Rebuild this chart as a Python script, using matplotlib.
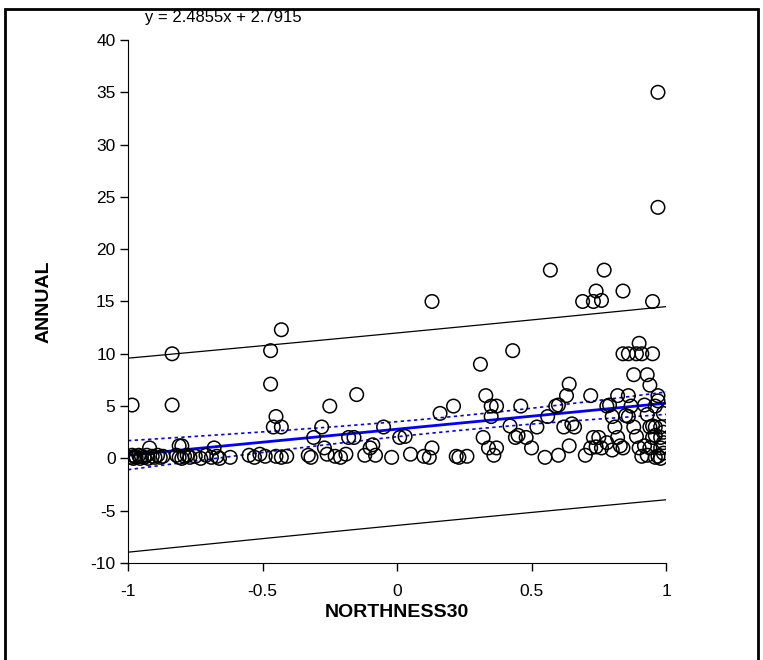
import numpy as np
import matplotlib.pyplot as plt
from matplotlib.patches import Rectangle

plt.rcParams['font.family'] = ['Liberation Sans', 'DejaVu Sans']
plt.rcParams['axes.unicode_minus'] = False

# fitted line as printed on the chart
slope = 2.4855
intercept = 2.7915

# NORTHNESS30 / ANNUAL
northness = [
    -0.985, -0.836, -0.836, -0.81, -0.80, -0.92,
    -0.99, -0.985, -0.98, -0.975, -0.97, -0.96, -0.955, -0.95, -0.94, -0.93,
    -0.925, -0.91, -0.90, -0.89, -0.88, -0.87,
    -0.82, -0.81, -0.80, -0.79, -0.78, -0.77, -0.75, -0.73, -0.71, -0.69,
    -0.68, -0.67, -0.66, -0.62, -0.55, -0.53, -0.51, -0.49,
    -0.47, -0.47, -0.45, -0.46, -0.43, -0.43, -0.45, -0.43, -0.41, -0.33,
    -0.32, -0.31, -0.28, -0.25, -0.27, -0.26, -0.23, -0.21, -0.19, -0.18,
    -0.16, -0.15, -0.12, -0.10, -0.09, -0.08, -0.05, -0.02, 0.01, 0.03, 0.05,
    0.10, 0.12, 0.13, 0.13, 0.16, 0.21, 0.22, 0.23, 0.26, 0.31, 0.33, 0.32,
    0.35, 0.37, 0.35, 0.34, 0.36, 0.37, 0.42, 0.43, 0.44, 0.45, 0.46, 0.48, 0.50,
    0.52, 0.55, 0.56, 0.57, 0.59, 0.60, 0.60, 0.62, 0.63, 0.64, 0.64, 0.65,
    0.66, 0.69, 0.73, 0.74, 0.76, 0.77, 0.84, 0.95, 0.97, 0.97, 0.70, 0.72,
    0.73, 0.74, 0.75, 0.76, 0.72, 0.78, 0.79, 0.80, 0.81, 0.82, 0.83, 0.82,
    0.84, 0.86, 0.88, 0.89, 0.90, 0.91, 0.93, 0.94, 0.95, 0.86, 0.87, 0.88,
    0.90, 0.91, 0.85, 0.86, 0.78, 0.80, 0.84, 0.89,
    0.93, 0.94, 0.95, 0.96, 0.96, 0.97, 0.97, 0.98, 0.98, 0.98, 0.99, 0.99,
    0.99, 0.96, 0.95, 0.93, 0.92, 0.97, 0.98, 0.99, 0.96, 0.94, 0.92,
]
annual = [
    5.1, 10.0, 5.1, 1.2, 1.2, 1.0,
    0.1, 0.3, 0.0, 0.2, 0.1, 0.3, 0.0, 0.2, 0.1, 0.3,
    0.0, 0.2, 0.1, 0.3, 0.1, 0.2,
    0.3, 0.1, 0.0, 0.2, 0.3, 0.1, 0.2, 0.0, 0.3, 0.1,
    1.0, 0.2, 0.0, 0.1, 0.3, 0.1, 0.4, 0.2,
    10.3, 7.1, 4.0, 3.0, 3.0, 12.3, 0.2, 0.1, 0.2, 0.3,
    0.1, 2.0, 3.0, 5.0, 1.0, 0.4, 0.2, 0.1, 0.4, 2.0,
    2.0, 6.1, 0.3, 1.0, 1.3, 0.3, 3.0, 0.1, 2.0, 2.1, 0.4,
    0.2, 0.1, 1.0, 15.0, 4.3, 5.0, 0.2, 0.1, 0.2, 9.0, 6.0, 2.0,
    5.0, 5.0, 4.0, 1.0, 0.3, 1.0, 3.1, 10.3, 2.0, 2.2, 5.0, 2.0, 1.0,
    3.0, 0.1, 4.0, 18.0, 5.0, 5.1, 0.3, 3.0, 6.0, 7.1, 1.2, 3.3,
    3.0, 15.0, 15.0, 16.0, 15.1, 18.0, 16.0, 15.0, 35.0, 24.0, 0.3, 1.0,
    2.0, 1.1, 2.0, 1.0, 6.0, 5.0, 5.1, 4.0, 3.0, 2.0, 1.2, 6.0,
    10.0, 10.0, 8.0, 10.0, 11.0, 10.0, 8.0, 7.0, 10.0, 6.0, 5.0, 3.0,
    1.0, 0.2, 4.1, 4.0, 1.5, 0.8, 1.0, 2.1,
    0.3, 1.0, 2.0, 3.0, 5.0, 6.0, 0.2, 1.0, 2.0, 3.0, 4.3, 0.5,
    1.5, 0.1, 3.1, 4.2, 5.1, 5.5, 0.0, 2.5, 2.2, 3.0, 1.2,
]

x = np.array(northness)
y = np.array(annual)

# 95% confidence and prediction bands around the printed line
n = len(x)
xm = x.mean()
sxx = ((x - xm) ** 2).sum()
s = np.sqrt(((y - (slope * x + intercept)) ** 2).sum() / (n - 2))
t = 1.97
xg = np.linspace(-1, 1, 101)
fit = slope * xg + intercept
ci = t * s * np.sqrt(1 / n + (xg - xm) ** 2 / sxx)
pi = t * s * np.sqrt(1 + 1 / n + (xg - xm) ** 2 / sxx)

fig = plt.figure(figsize=(7.63, 6.60), dpi=100)
ax = fig.add_axes([0.1678, 0.147, 0.7051, 0.7924])

ax.scatter(x, y, s=95, facecolors='none', edgecolors='black', linewidths=1.1, zorder=3)
ax.plot(xg, fit + pi, color='black', lw=0.9)
ax.plot(xg, fit - pi, color='black', lw=0.9)
ax.plot(xg, fit + ci, color='blue', lw=1.2, ls=(0, (2, 2)))
ax.plot(xg, fit - ci, color='blue', lw=1.2, ls=(0, (2, 2)))
ax.plot(xg, fit, color='blue', lw=2)

ax.set_xlim(-1, 1)
ax.set_ylim(-10, 40)
ax.set_xticks([-1, -0.5, 0, 0.5, 1])
ax.set_xticklabels(['-1', '-0.5', '0', '0.5', '1'])
ax.set_yticks(range(-10, 41, 5))
ax.tick_params(labelsize=12.5, length=6, width=1, direction='out')
ax.tick_params(axis='y', pad=3)
ax.tick_params(axis='x', pad=9)
for side in ['top', 'right']:
    ax.spines[side].set_visible(False)

ax.set_xlabel('NORTHNESS30', fontsize=14, fontweight='bold', labelpad=4)
ax.set_ylabel('ANNUAL', fontsize=14, fontweight='bold', labelpad=27)

fig.text(0.19, 0.974, 'y = 2.4855x + 2.7915', fontsize=12, va='center', ha='left')

# frame around the whole picture
fig.patches.append(Rectangle((0.006, -0.02), 0.988, 1.006, transform=fig.transFigure,
                             fill=False, edgecolor='black', lw=2))

fig.savefig('out.png', dpi=100)
